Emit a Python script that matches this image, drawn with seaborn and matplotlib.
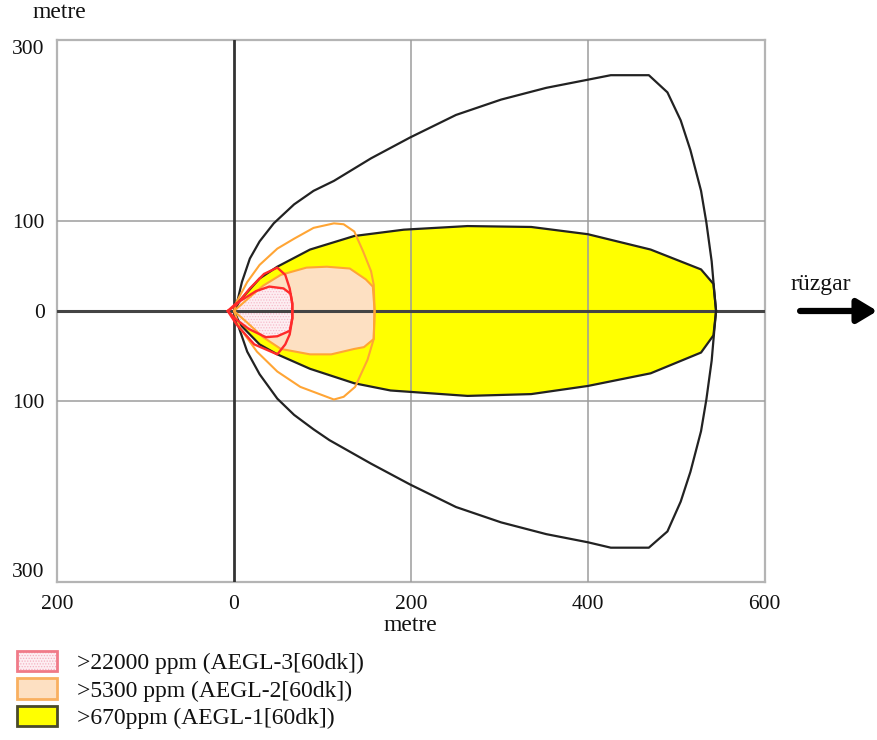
"""ALOHA style threat zone plot (AEGL-1/2/3) with wind arrow."""

import matplotlib.pyplot as plt
import seaborn as sns
from matplotlib.patches import Patch

# threat zone outlines in metres (downwind x, crosswind y)
AEGL1_LINE_X = [0, 3, 9, 18, 29, 45, 68, 90, 113, 155, 199, 251, 302, 353, 400, 426, 469, 490, 505,
                516, 528, 534, 540, 543, 545, 543, 540, 534, 528, 516, 505, 490, 469, 426, 400, 353,
                302, 251, 199, 155, 108, 90, 68, 49, 29, 15, 3, 0]
AEGL1_LINE_Y = [0, 7, 32, 58, 77, 97, 118, 133, 144, 169, 192, 217, 234, 247, 256, 261, 261, 242, 211,
                178, 133, 98, 55, 21, 0, -21, -55, -98, -133, -178, -211, -244, -262, -262, -256, -247,
                -234, -217, -192, -169, -143, -131, -115, -97, -70, -45, -11, 0]

AEGL1_FILL_X = [0, 7, 29, 49, 86, 136, 192, 264, 336, 400, 471, 528, 542, 545,
                542, 528, 471, 400, 336, 264, 177, 136, 86, 49, 29, 7, 0]
AEGL1_FILL_Y = [0, 12, 36, 49, 68, 83, 90, 94, 93, 85, 68, 46, 30, 0,
                -27, -46, -69, -83, -92, -94, -88, -80, -64, -48, -37, -15, 0]

AEGL2_LINE_X = [0, 3, 15, 29, 49, 68, 90, 113, 124, 136, 146, 155, 158, 159,
                158, 151, 137, 124, 113, 75, 49, 26, 7, 0]
AEGL2_LINE_Y = [0, 10, 32, 51, 69, 80, 92, 97, 96, 88, 66, 44, 29, 0,
                -31, -54, -84, -95, -98, -84, -67, -45, -19, 0]

AEGL2_FILL_X = [0, 14, 33, 53, 82, 105, 131, 149, 157, 159, 158, 147, 136, 110, 86, 53, 33, 14, 0]
AEGL2_FILL_Y = [0, 12, 28, 40, 48, 49, 47, 35, 27, 0, -31, -40, -42, -48, -48, -42, -29, -12, 0]

AEGL3_LINE_X = [-7, 3, 18, 34, 49, 58, 63, 66, 66, 63, 58, 49, 23, 3, -7]
AEGL3_LINE_Y = [0, 7, 25, 41, 48, 40, 25, 8, -8, -26, -37, -48, -37, -15, 0]

AEGL3_FILL_X = [-7, 2, 25, 40, 56, 64, 66, 66, 63, 49, 36, 17, 2, -7]
AEGL3_FILL_Y = [0, 8, 22, 27, 25, 19, 8, -8, -22, -28, -29, -20, -9, 0]

X_TICKS = [-200, 0, 200, 400, 600]
X_TICK_LABELS = ["200", "0", "200", "400", "600"]
Y_TICKS = [-300, -100, 0, 100, 300]
Y_TICK_LABELS = ["300", "100", "0", "100", "300"]

LEGEND_LABELS = [">22000 ppm (AEGL-3[60dk])", ">5300 ppm (AEGL-2[60dk])", ">670ppm (AEGL-1[60dk])"]

YELLOW = "#ffff00"
PEACH = "#fde0c2"
ORANGE = "#ffa535"
RED = "#ff2a2a"
PINK = "#fdeef2"
INK = "#111111"


def line(ax, xs, ys, color, lw, z):
    sns.lineplot(x=xs, y=ys, sort=False, estimator=None, color=color, lw=lw, ax=ax, zorder=z)


def main() -> None:
    sns.set_theme(style="white")
    plt.rcParams["font.family"] = ["Liberation Serif", "DejaVu Serif"]
    plt.rcParams["hatch.linewidth"] = 0.6

    fig = plt.figure(figsize=(8.77, 7.40), dpi=100)
    ax = fig.add_axes([0.065, 0.2135, 0.807, 0.7325])

    # zone fills
    ax.fill(AEGL1_FILL_X, AEGL1_FILL_Y, color=YELLOW, lw=0, zorder=1)
    ax.fill(AEGL2_FILL_X, AEGL2_FILL_Y, color=PEACH, lw=0, zorder=2)
    ax.fill(AEGL3_FILL_X, AEGL3_FILL_Y, facecolor=PINK, lw=0, zorder=3)
    ax.fill(AEGL3_FILL_X, AEGL3_FILL_Y, facecolor="none", edgecolor="#f6bccb",
            hatch="......", lw=0, zorder=3)

    # grid over the fills, zero lines darker
    for v in (200, 400):
        ax.axvline(v, color="#9c9c9c", lw=1.1, zorder=4)
    for h in (100, -100):
        ax.axhline(h, color="#9c9c9c", lw=1.1, zorder=4)
    ax.axvline(0, color="#333333", lw=2, zorder=5)
    ax.axhline(0, color="#444444", lw=2.2, zorder=5)

    # zone outlines and confidence lines
    line(ax, AEGL1_FILL_X, AEGL1_FILL_Y, "#222222", 1.6, 6)
    line(ax, AEGL1_LINE_X, AEGL1_LINE_Y, "#222222", 1.6, 6)
    line(ax, AEGL2_FILL_X, AEGL2_FILL_Y, ORANGE, 1.5, 7)
    line(ax, AEGL2_LINE_X, AEGL2_LINE_Y, ORANGE, 1.5, 7)
    line(ax, AEGL3_FILL_X, AEGL3_FILL_Y, RED, 1.7, 8)
    line(ax, AEGL3_LINE_X, AEGL3_LINE_Y, RED, 1.7, 8)

    ax.set_xlim(-200, 600)
    ax.set_ylim(-300, 300)
    ax.set_xticks(X_TICKS)
    ax.set_xticklabels(X_TICK_LABELS, fontsize=15.5)
    ax.set_yticks(Y_TICKS)
    ax.set_yticklabels(Y_TICK_LABELS, fontsize=15.5)
    ylabels = ax.get_yticklabels()
    ylabels[0].set_va("bottom")
    ylabels[-1].set_va("top")
    ax.tick_params(length=0, pad=9, colors=INK)
    ax.set_xlabel("metre", fontsize=17, labelpad=1, color=INK)
    for s in ax.spines.values():
        s.set_color("#b4b4b4")
        s.set_linewidth(1.6)

    fig.text(59 / 877, 1 - 13 / 740, "metre", fontsize=17, ha="center", va="center", color=INK)

    # wind direction
    ax.annotate("", xy=(1.163, 0.5), xytext=(1.046, 0.5), xycoords="axes fraction",
                annotation_clip=False,
                arrowprops=dict(arrowstyle="-|>,head_length=1.0,head_width=0.6",
                                color="black", lw=4.5))
    ax.text(1.079, 0.548, "rüzgar", transform=ax.transAxes, fontsize=17,
            ha="center", va="center", color=INK)

    handles = [
        (Patch(facecolor=PINK, edgecolor="none"),
         Patch(facecolor="none", edgecolor="#f4b0c0", hatch="......", lw=0),
         Patch(facecolor="none", edgecolor="#f07a88", lw=2)),
        Patch(facecolor=PEACH, edgecolor="#f9b060", lw=2),
        Patch(facecolor=YELLOW, edgecolor="#4a4a2a", lw=2),
    ]
    fig.legend(handles, LEGEND_LABELS, loc="upper left", bbox_to_anchor=(17 / 877, 1 - 651 / 740),
               frameon=False, fontsize=17, borderpad=0, borderaxespad=0, labelcolor=INK,
               handlelength=1.7, handleheight=0.95, handletextpad=0.85, labelspacing=0.17)

    fig.savefig("out.png", dpi=100)
    plt.close(fig)


if __name__ == "__main__":
    main()
